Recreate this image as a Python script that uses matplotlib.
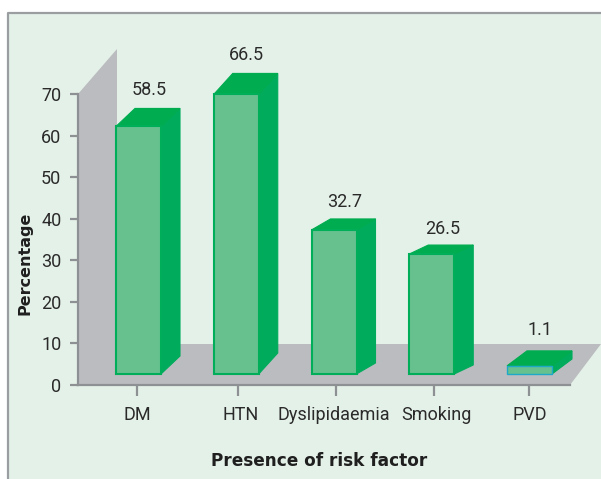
import matplotlib
matplotlib.use("Agg")
import matplotlib.pyplot as plt
from matplotlib.patches import Polygon, Rectangle
from matplotlib.transforms import Affine2D, ScaledTranslation

categories = ["DM", "HTN", "Dyslipidaemia", "Smoking", "PVD"]
value_labels = ["58.5", "66.5", "32.7", "26.5", "1.1"]
bar_tops = [62.2, 69.9, 37.3, 31.5, 4.6]   # drawn height on the y axis
y_ticks = [0, 10, 20, 30, 40, 50, 60, 70]
tick_positions = [-0.015, 1.02, 2.02, 3.02, 3.99]

W, H = 601, 479
fig = plt.figure(figsize=(W / 100, H / 100), dpi=100, facecolor="white")
BG = "#E4F1E8"; BORDER = "#9A9EA1"; GREY = "#BBBCBF"; AXIS = "#8E9194"
FRONT = "#66C18F"; EDGE = "#00AE5A"; TOP = "#00AC50"; SIDE = "#00AB5C"; TEXT = "#2A2A2A"
COND = ["Roboto", "DejaVu Sans"]

# pixel coordinates, origin top-left
px = Affine2D().scale(1, -1).translate(0, H)

fig.patches.append(Rectangle((8, 13), W, H, transform=px, fc=BG, ec="none", zorder=0))
fig.lines.append(plt.Line2D([7.5, 7.5, W], [H, 12.5, 12.5], transform=px, color=BORDER, lw=1.6, zorder=1))

# axes frame: x=78..570 px, y=94..385 px
L, R, T, B = 78, 570, 94, 385
ax = fig.add_axes([L / W, 1 - B / H, (R - L) / W, (B - T) / H])
ax.set_zorder(5)
ax.patch.set_visible(False)
PITCH, C0 = 97.75, 138.5
ax.set_xlim((L - C0) / PITCH, (R - C0) / PITCH)
ax.set_ylim(0, 70)
for s in ("top", "right"):
    ax.spines[s].set_visible(False)
for s in ("left", "bottom"):
    ax.spines[s].set_color(AXIS); ax.spines[s].set_linewidth(1.6)

# wall and floor
ax.add_patch(Polygon([(78, 385), (78, 94), (117, 49), (117, 344), (601, 344), (570, 385)],
                     transform=px, fc=GREY, ec="none", clip_on=False, zorder=1))

ax.set_yticks(y_ticks)
ax.set_xticks(tick_positions, categories)
ax.tick_params(axis="y", length=6, width=1.6, color=AXIS, pad=6)
ax.tick_params(axis="x", length=8, width=1.6, color=AXIS, pad=7)
for lab in ax.get_yticklabels() + ax.get_xticklabels():
    lab.set_family(COND); lab.set_fontsize(13); lab.set_color(TEXT)
xlabel_shift_px = [0, 2, -2, 3, 1]
for lab, s in zip(ax.get_xticklabels(), xlabel_shift_px):
    lab.set_transform(lab.get_transform() + ScaledTranslation(s / 100, 0, fig.dpi_scale_trans))

# bars
BASE = 11 / 4.157
BAR_W = 45 / PITCH
dx_px = [19, 19, 19, 19, 20]
dy_px = [18, 21, 11, 9, 15]
label_gap_px = [18, 18, 17, 16, 21]
for i, top in enumerate(bar_tops):
    dx = dx_px[i] / PITCH
    dy = dy_px[i] / 4.157
    x0, x1 = i - BAR_W / 2, i + BAR_W / 2
    ax.add_patch(Polygon([(x1, BASE), (x1 + dx, BASE + dy), (x1 + dx, top + dy), (x1, top)],
                         fc=SIDE, ec=SIDE, lw=0.8, clip_on=False, zorder=3))
    ax.add_patch(Polygon([(x0, top), (x0 + dx, top + dy), (x1 + dx, top + dy), (x1, top)],
                         fc=TOP, ec=TOP, lw=0.8, clip_on=False, zorder=3))
    ax.bar(i, top - BASE, bottom=BASE, width=BAR_W, color=FRONT, edgecolor=EDGE if i < 4 else "#1FA9C9",
           linewidth=1.5 if i < 4 else 1.0, zorder=4, clip_on=False)
    ax.annotate(value_labels[i], xy=(i + 10.5 / PITCH, top + dy), xytext=(0, label_gap_px[i] * 0.72),
                textcoords="offset points", ha="center", va="center", family=COND, fontsize=13,
                color=TEXT, annotation_clip=False)

fig.text(319 / W, 1 - 461 / H, "Presence of risk factor", ha="center", va="center",
         fontweight="bold", fontsize=12.2, color="#1F1F1F", family="DejaVu Sans")
fig.text(25 / W, 1 - 263 / H, "Percentage", ha="center", va="center", rotation=90,
         fontweight="bold", fontsize=11.5, color="#1F1F1F", family="DejaVu Sans")

fig.savefig("out.png", dpi=100)
